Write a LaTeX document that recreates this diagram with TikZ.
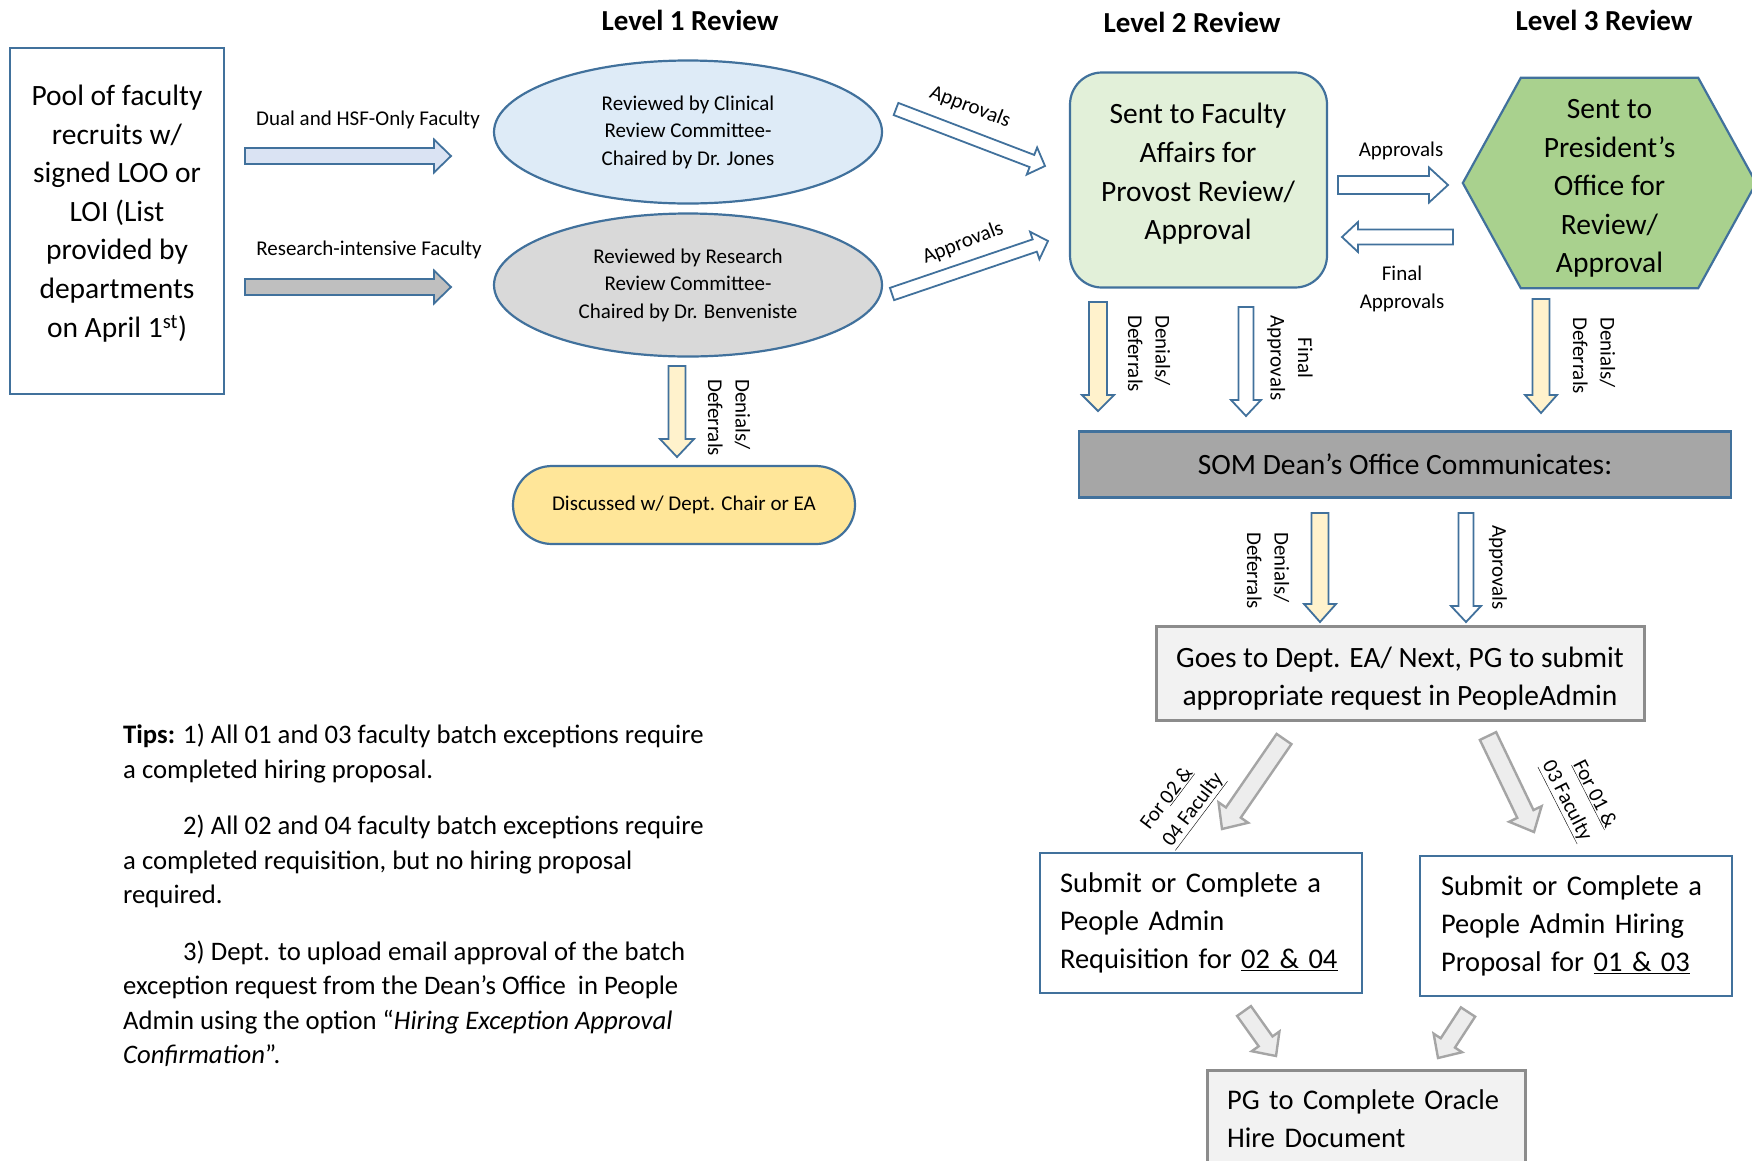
\documentclass[tikz,border=0pt]{standalone}
\usepackage{fontspec}
\setmainfont{Carlito}
\usetikzlibrary{calc,backgrounds,shapes.geometric}

\definecolor{edgeblue}{HTML}{41719C}
\definecolor{clinfill}{HTML}{DEEBF7}
\definecolor{resfill}{HTML}{D9D9D9}
\definecolor{dualfill}{HTML}{DAE3F3}
\definecolor{resarrow}{HTML}{BFBFBF}
\definecolor{denyfill}{HTML}{FFF2CC}
\definecolor{discfill}{HTML}{FFE699}
\definecolor{provfill}{HTML}{E2F0D9}
\definecolor{presfill}{HTML}{A9D18E}
\definecolor{somfill}{HTML}{A6A6A6}
\definecolor{pafill}{HTML}{F2F2F2}
\definecolor{paedge}{HTML}{8C8C8C}
\definecolor{diagfill}{HTML}{EDEDED}
\definecolor{diagedge}{HTML}{A5A5A5}

\newcommand{\bigfont}{\fontsize{29.5}{38.6}\selectfont}
\newcommand{\boxfont}{\fontsize{28.5}{38}\selectfont}
\newcommand{\midfont}{\fontsize{26.7}{34.5}\selectfont}
\newcommand{\smallfont}{\fontsize{21}{27.5}\selectfont}
\newcommand{\headfont}{\fontsize{29}{35}\selectfont\bfseries}

% block arrow: style, from, to, half shaft, half head, head length
\newcommand{\blockarrow}[6]{%
  \coordinate (bahead) at ($(#3)!#6!(#2)$);
  \filldraw[#1] ($(#2)!#4!90:(#3)$) -- ($(bahead)!#4!-90:(#2)$)
    -- ($(bahead)!#5!-90:(#2)$) -- (#3) -- ($(bahead)!#5!90:(#2)$)
    -- ($(bahead)!#4!90:(#2)$) -- ($(#2)!#4!-90:(#3)$) -- cycle;}

\begin{document}
\begin{tikzpicture}[x=1pt,y=-1pt,
    head/.style={font=\headfont, inner sep=0pt},
    bigtxt/.style={font=\bigfont, align=center, inner sep=0pt},
    lbl/.style={font=\smallfont, inner sep=0pt},
    frame/.style={draw=edgeblue, line width=2.2pt},
    ellip/.style={ellipse, frame, minimum width=388pt, minimum height=143pt,
                  font=\smallfont, align=center, inner sep=0pt},
    pabox/.style={draw=paedge, line width=3pt, fill=pafill},
    subbox/.style={frame, fill=white, font=\boxfont, align=left,
                   minimum height=140pt, inner xsep=20pt},
    dualarr/.style={draw=edgeblue, line width=1.8pt, fill=dualfill},
    resarr/.style={dualarr, fill=resarrow},
    okarr/.style={dualarr, fill=white},
    denyarr/.style={dualarr, fill=denyfill},
    diagarr/.style={draw=diagedge, line width=2.4pt, fill=diagfill}]
\useasboundingbox (0,0) rectangle (1752,1160);
\clip (0,0) rectangle (1752,1160);

% level titles
\node[head] (lvl1) at (690,20) {Level 1 Review};
\node[head] (lvl2) at (1192,22) {Level 2 Review};
\node[head] (lvl3) at (1604,20) {Level 3 Review};

% pool of recruits
\node[frame, minimum width=214pt, minimum height=346pt] (pool) at (117,221) {};
\node[bigtxt] (pooltxt) at (117,213.5) {Pool of faculty\\recruits w/\\signed LOO or\\LOI (List\\provided by\\departments\\on April 1\textsuperscript{st})};

% level 1
\node[ellip, fill=clinfill] (clin) at (688,132) {Reviewed by Clinical\\Review Committee-\\Chaired by Dr. Jones};
\node[ellip, fill=resfill] (res) at (688,285) {Reviewed by Research\\Review Committee-\\Chaired by Dr. Benveniste};
\node[frame, fill=discfill, rounded corners=39pt, minimum width=342pt,
      minimum height=78pt, font=\smallfont] (disc) at (684,505) {Discussed w/ Dept. Chair or EA};

\node[lbl] (dualtxt) at (368,120) {Dual and HSF-Only Faculty};
\node[lbl] (restxt) at (369,250) {Research-intensive Faculty};
\coordinate (dualS) at (245,156); \coordinate (dualE) at (451,156);
\coordinate (resS) at (245,287); \coordinate (resE) at (451,287);
\blockarrow{dualarr}{dualS}{dualE}{8pt}{16.5pt}{17pt}
\blockarrow{resarr}{resS}{resE}{8pt}{16.5pt}{17pt}

\coordinate (deny1S) at (677,366); \coordinate (deny1E) at (677,457);
\blockarrow{denyarr}{deny1S}{deny1E}{8.5pt}{17pt}{18pt}
\node[lbl, rotate=-90, anchor=west, align=left] (deny1) at (729,379) {Denials/\\Deferrals};

% level 1 to level 2
\coordinate (app1S) at (896,109); \coordinate (app1E) at (1045,166);
\coordinate (app2S) at (892,294); \coordinate (app2E) at (1048,241);
\blockarrow{okarr}{app1S}{app1E}{6.5pt}{14.5pt}{14pt}
\blockarrow{okarr}{app2S}{app2E}{6.5pt}{14.5pt}{14pt}
\node[lbl, rotate=-21] (app1) at (970,107) {Approvals};
\node[lbl, rotate=21] (app2) at (963,243) {Approvals};

% level 2
\node[frame, fill=provfill, rounded corners=32pt, minimum width=257pt,
      minimum height=215pt] (prov) at (1198.5,180) {};
\node[bigtxt] (provtxt) at (1198,174) {Sent to Faculty\\Affairs for\\Provost Review/\\Approval};

% level 3
\node[bigtxt, minimum width=177pt, minimum height=210pt] (pres) at (1609.5,188.5) {Sent to\\President’s\\Office for\\Review/\\Approval};
\begin{scope}[on background layer]
  \filldraw[frame, fill=presfill] ([yshift=5.5pt]pres.north west)
    -- ([yshift=5.5pt]pres.north east) -- ([xshift=58pt,yshift=5.5pt]pres.east)
    -- ([yshift=5.5pt]pres.south east) -- ([yshift=5.5pt]pres.south west)
    -- ([xshift=-58pt,yshift=5.5pt]pres.west) -- cycle;
\end{scope}

\coordinate (ap3S) at (1338,185); \coordinate (ap3E) at (1448,185);
\coordinate (fin3S) at (1453,237); \coordinate (fin3E) at (1342,237);
\blockarrow{okarr}{ap3S}{ap3E}{9pt}{17.5pt}{19pt}
\blockarrow{okarr}{fin3S}{fin3E}{7.5pt}{15pt}{16pt}
\node[lbl] (ap3) at (1401,151) {Approvals};
\node[lbl, align=center] (fin3) at (1402,289) {Final\\Approvals};

% down to the dean's office
\coordinate (deny2S) at (1098,302); \coordinate (deny2E) at (1098,411);
\coordinate (fin2S) at (1246,307); \coordinate (fin2E) at (1246,416);
\coordinate (deny3S) at (1541,299); \coordinate (deny3E) at (1541,413);
\blockarrow{denyarr}{deny2S}{deny2E}{9pt}{16pt}{16pt}
\blockarrow{okarr}{fin2S}{fin2E}{7.5pt}{15pt}{16pt}
\blockarrow{denyarr}{deny3S}{deny3E}{8.5pt}{16pt}{18pt}
\node[lbl, rotate=-90, anchor=west, align=left] (deny2) at (1149,315) {Denials/\\Deferrals};
\node[lbl, rotate=-90, align=center] (fin2) at (1290,358) {Final\\Approvals};
\node[lbl, rotate=-90, anchor=west, align=left] (deny3) at (1594,317) {Denials/\\Deferrals};

\node[frame, fill=somfill, minimum width=652pt, minimum height=66pt,
      font=\bigfont] (som) at (1405,464.5) {SOM Dean’s Office Communicates:};

\coordinate (deny4S) at (1320,513); \coordinate (deny4E) at (1320,622);
\coordinate (ok4S) at (1466,513); \coordinate (ok4E) at (1466,622);
\blockarrow{denyarr}{deny4S}{deny4E}{8.5pt}{16pt}{18pt}
\blockarrow{okarr}{ok4S}{ok4E}{7.5pt}{15pt}{16pt}
\node[lbl, rotate=-90, anchor=west, align=left] (deny4) at (1268,532) {Denials/\\Deferrals};
\node[lbl, rotate=-90, anchor=west] (ok4) at (1498,525) {Approvals};

% people admin
\node[pabox, minimum width=488pt, minimum height=94pt] (goes) at (1400,673) {};
\node[bigtxt] (goestxt) at (1400,678.5) {Goes to Dept. EA/ Next, PG to submit\\appropriate request in PeopleAdmin};

\coordinate (d1S) at (1284,739); \coordinate (d1E) at (1222,829);
\coordinate (d2S) at (1488,736); \coordinate (d2E) at (1534,832);
\blockarrow{diagarr}{d1S}{d1E}{9pt}{18pt}{20pt}
\blockarrow{diagarr}{d2S}{d2E}{9pt}{18pt}{20pt}
\node[lbl, rotate=53, align=left] (for24) at (1183,802) {For \underline{02 \&}\\\underline{04 Faculty}};
\node[lbl, rotate=-63, align=right] (for13) at (1578,795) {\underline{For 01 \&}\\\underline{03 Faculty}};

\node[subbox, text width=282pt] (req) at (1201,923) {Submit or Complete a\\People Admin\\Requisition for \underline{02 \& 04}};
\node[subbox, text width=270pt, inner xsep=21pt] (hire) at (1576,926) {Submit or Complete a\\People Admin Hiring\\Proposal for \underline{01 \& 03}};

\coordinate (b1S) at (1244,1011); \coordinate (b1E) at (1276,1056);
\coordinate (b2S) at (1468,1012); \coordinate (b2E) at (1438,1058);
\blockarrow{diagarr}{b1S}{b1E}{8.5pt}{17pt}{18pt}
\blockarrow{diagarr}{b2S}{b2E}{8.5pt}{17pt}{18pt}

\node[pabox, text width=278pt, inner xsep=20pt, minimum height=97pt,
      font=\boxfont, align=left] (oracle) at (1366,1118.5) {PG to Complete Oracle\\Hire Document};

% tips
\node[font=\midfont, align=left, inner sep=0pt, anchor=north west] (tips) at (123,724)
  {\textbf{Tips:} 1) All 01 and 03 faculty batch exceptions require\\
   a completed hiring proposal.\\[22pt]
   \hspace*{60pt}2) All 02 and 04 faculty batch exceptions require\\
   a completed requisition, but no hiring proposal\\
   required.\\[22pt]
   \hspace*{60pt}3) Dept. to upload email approval of the batch\\
   exception request from the Dean’s Office \ in People\\
   Admin using the option “\textit{Hiring Exception Approval}\\
   \textit{Confirmation}”.};
\end{tikzpicture}
\end{document}
